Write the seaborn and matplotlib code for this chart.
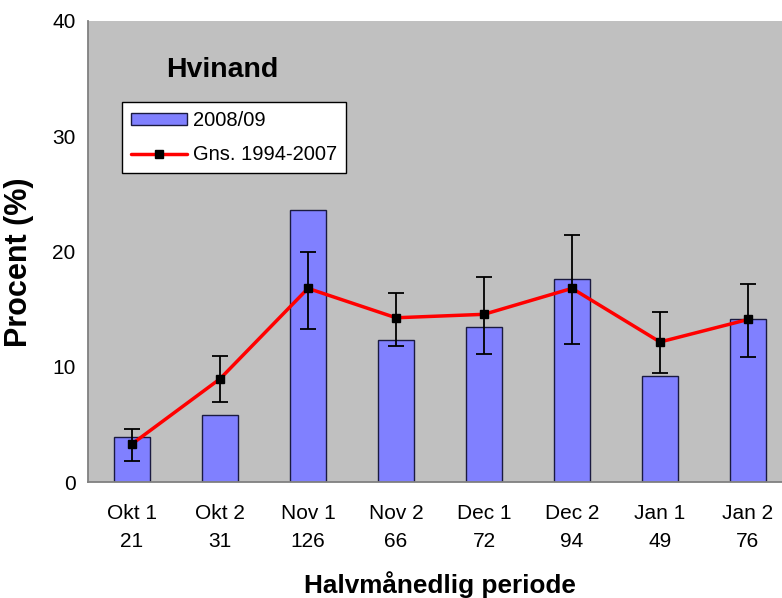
import numpy as np
import pandas as pd
import matplotlib
matplotlib.use("Agg")
import matplotlib.pyplot as plt
import seaborn as sns

# data
periods = ["Okt 1", "Okt 2", "Nov 1", "Nov 2", "Dec 1", "Dec 2", "Jan 1", "Jan 2"]
counts = [21, 31, 126, 66, 72, 94, 49, 76]
pct_2008 = [3.9, 5.8, 23.6, 12.35, 13.45, 17.6, 9.2, 14.15]
avg_9407 = [3.3, 8.95, 16.8, 14.25, 14.55, 16.8, 12.15, 14.1]
err_low = [1.8, 6.95, 13.3, 11.8, 11.1, 12.0, 9.45, 10.85]
err_high = [4.6, 10.9, 20.0, 16.4, 17.8, 21.4, 14.75, 17.2]

labels = [f"{p}\n{n}" for p, n in zip(periods, counts)]
df = pd.DataFrame({"periode": labels, "pct": pct_2008})

sns.set_style("white")
plt.rcParams['font.family'] = ['Liberation Sans', 'DejaVu Sans']
plt.rcParams['text.color'] = 'black'
plt.rcParams['axes.labelcolor'] = 'black'
plt.rcParams['xtick.labelcolor'] = 'black'
plt.rcParams['ytick.labelcolor'] = 'black'

fig = plt.figure(figsize=(7.82, 5.98), dpi=100)
ax = fig.add_axes([88 / 782, 116 / 598, 704 / 782, 461 / 598])
ax.set_facecolor("#C0C0C0")

sns.barplot(data=df, x="periode", y="pct", ax=ax, color="#8080FF", saturation=1,
            width=0.42, edgecolor="#1a1a40", linewidth=1, label="2008/09", zorder=2)

x = np.arange(len(periods))
avg = np.array(avg_9407)
yerr = [avg - np.array(err_low), np.array(err_high) - avg]
ax.errorbar(x, avg, yerr=yerr, fmt="none", ecolor="black", elinewidth=1.3,
            capsize=6, capthick=1.3, zorder=3)
ax.plot(x, avg, color="#FF0000", lw=2.5, marker="s", markersize=5.5,
        markerfacecolor="black", markeredgecolor="black", label="Gns. 1994-2007", zorder=4)

ax.set_xlim(-0.5, len(periods) - 0.5)
ax.set_ylim(0, 40)
ax.set_yticks([0, 10, 20, 30, 40])

ax.set_xticks(x)
ax.set_xticks(np.arange(len(periods) + 1) - 0.5, minor=True)
ax.tick_params(axis="x", which="major", length=0, pad=16, labelsize=15)
ax.tick_params(axis="x", which="minor", length=5, color="#808080", width=1.2)
ax.tick_params(axis="y", which="major", length=5, color="#808080", width=1.2, labelsize=15, pad=4)
for lab in ax.get_xticklabels():
    lab.set_linespacing(1.6)

for s in ["top", "right"]:
    ax.spines[s].set_visible(False)
for s in ["left", "bottom"]:
    ax.spines[s].set_color("#808080")
    ax.spines[s].set_linewidth(1.3)

ax.set_xlabel("Halvmånedlig periode", fontsize=18.8, fontweight="bold", labelpad=14)
ax.set_ylabel("Procent (%)", fontsize=22, fontweight="bold")
ax.yaxis.set_label_coords(-0.077, 0.477)

ax.text(0.19, 0.894, "Hvinand", transform=ax.transAxes, fontsize=20.5,
        fontweight="bold", ha="center", va="center")

handles, names = ax.get_legend_handles_labels()
order = [names.index("2008/09"), names.index("Gns. 1994-2007")]
leg = ax.legend([handles[i] for i in order], [names[i] for i in order],
                loc="upper left", bbox_to_anchor=(0.048, 0.824), borderaxespad=0,
                fontsize=14.5, frameon=True, fancybox=False, edgecolor="black",
                framealpha=1, borderpad=0.45, handlelength=2.8, labelspacing=0.75,
                handletextpad=0.3, handleheight=0.6)
leg.get_frame().set_linewidth(1)

fig.savefig("out.png", dpi=100)
